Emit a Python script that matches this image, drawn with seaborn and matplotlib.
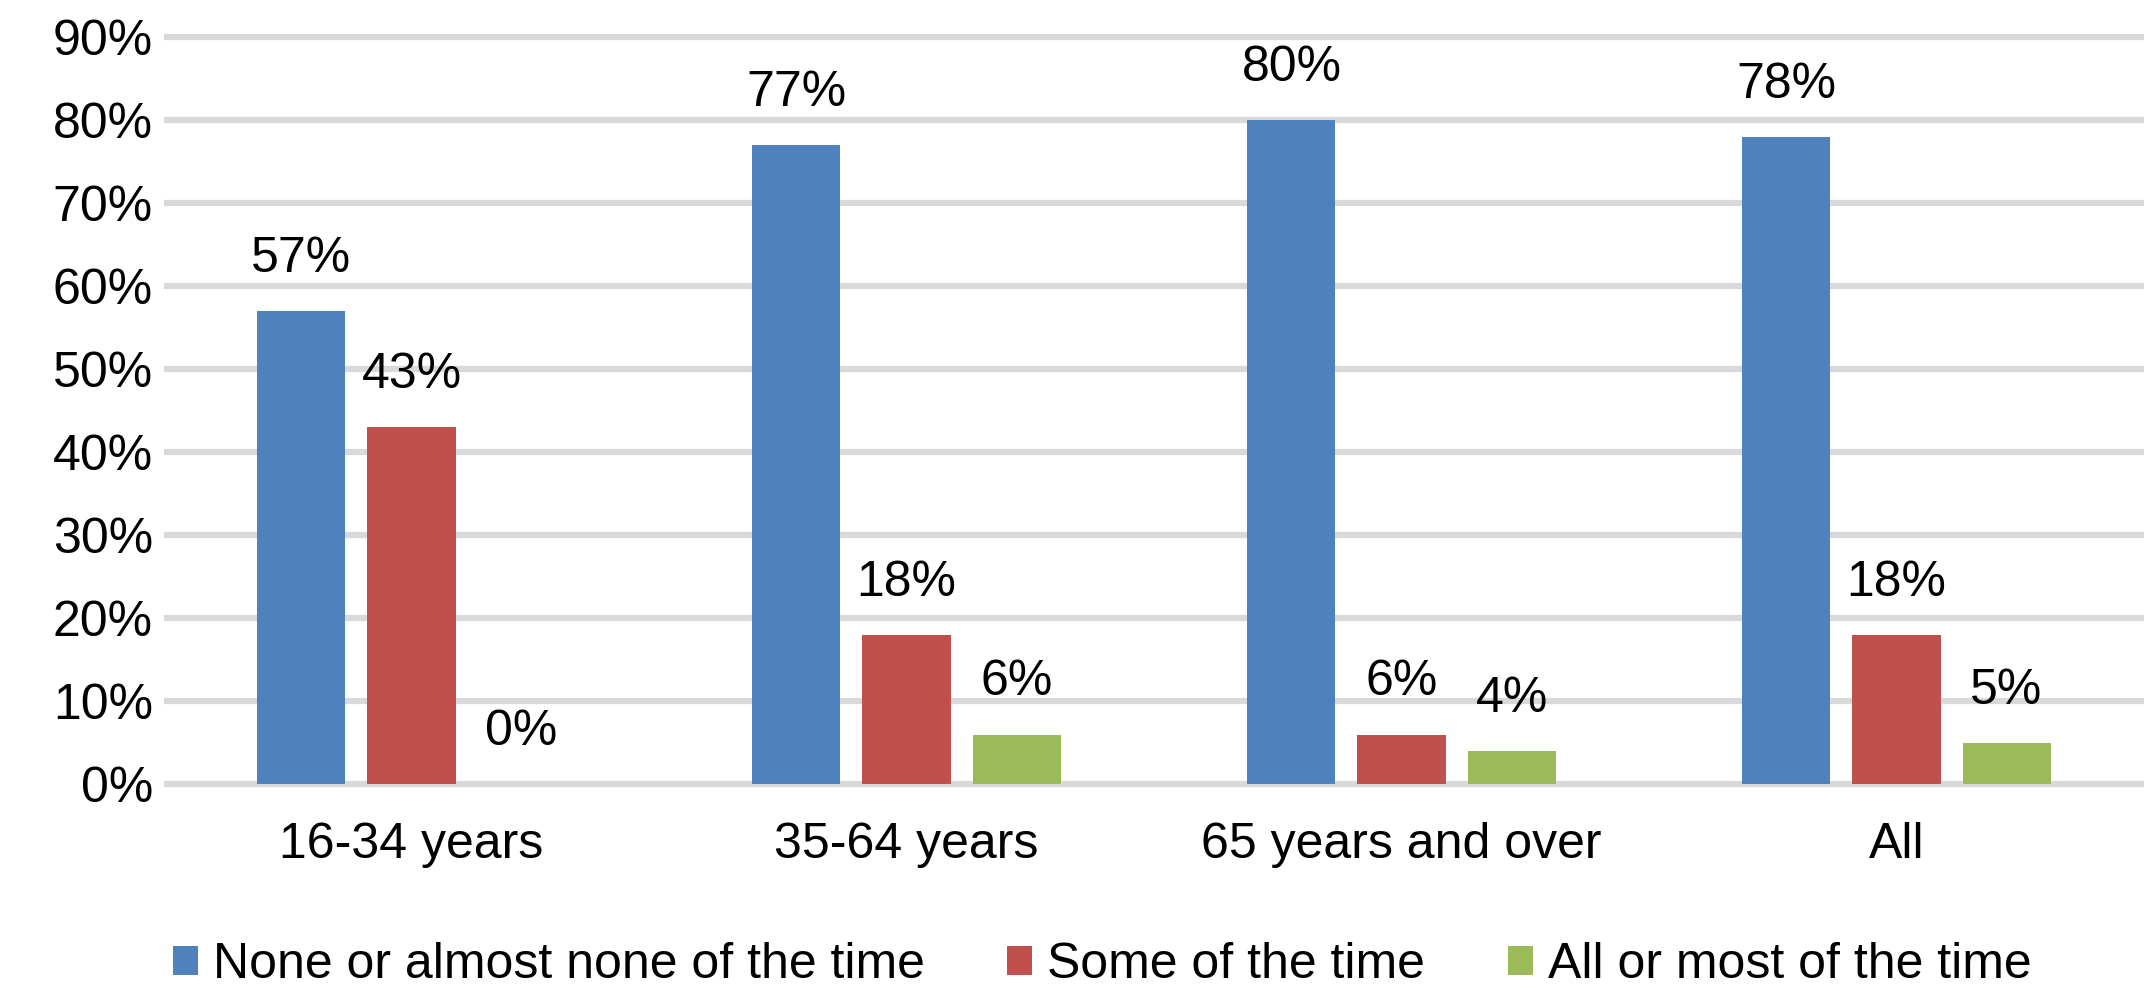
"""
Grouped bar chart: how often people felt lonely, by age group.
"""

import pandas as pd
import matplotlib.pyplot as plt
import seaborn as sns

# Data
AGE_GROUPS = ["16-34 years", "35-64 years", "65 years and over", "All"]
SERIES = ["None or almost none of the time", "Some of the time", "All or most of the time"]
NONE_VALUES = [57, 77, 80, 78]
SOME_VALUES = [43, 18, 6, 18]
MOST_VALUES = [0, 6, 4, 5]
Y_TICKS = [0, 10, 20, 30, 40, 50, 60, 70, 80, 90]

# Figure settings
FIG_DPI = 100
FONT_SIZE = 36
COLORS = ["#4F81BD", "#C0504D", "#9BBB59"]
GRID_COLOR = "#D9D9D9"


def main():
    sns.set_style("white")
    plt.rcParams["font.family"] = ["Liberation Sans", "DejaVu Sans"]
    plt.rcParams["text.color"] = "black"

    df = pd.DataFrame({
        "group": AGE_GROUPS * 3,
        "series": [s for s in SERIES for _ in AGE_GROUPS],
        "value": NONE_VALUES + SOME_VALUES + MOST_VALUES,
    })

    fig = plt.figure(figsize=(21.44, 9.9), dpi=FIG_DPI)
    ax = fig.add_axes([0.0765, 0.2034, 0.9235, 0.7634])

    sns.barplot(
        data=df, x="group", y="value", hue="series",
        order=AGE_GROUPS, hue_order=SERIES, palette=COLORS,
        width=0.667, gap=0.2, saturation=1, errorbar=None,
        linewidth=0, ax=ax,
    )

    # value labels above each bar
    for container in ax.containers:
        ax.bar_label(container, fmt="{:.0f}%", padding=21,
                     fontsize=FONT_SIZE, color="black")

    ax.set_ylim(-0.5, 90.5)
    ax.set_xlim(-0.5, len(AGE_GROUPS) - 0.5)
    ax.set_yticks(Y_TICKS)
    ax.set_yticklabels([f"{t}%" for t in Y_TICKS])
    ax.set_xlabel("")
    ax.set_ylabel("")
    ax.tick_params(axis="y", length=0, pad=8, labelsize=FONT_SIZE, labelcolor="black")
    ax.tick_params(axis="x", length=0, pad=24, labelsize=FONT_SIZE, labelcolor="black")

    ax.yaxis.grid(True, color=GRID_COLOR, linewidth=4.5)
    ax.set_axisbelow(True)
    sns.despine(ax=ax, left=True, bottom=True)

    # legend along the bottom
    handles, labels = ax.get_legend_handles_labels()
    ax.legend_.remove()
    leg = fig.legend(
        handles, labels, loc="center left",
        bbox_to_anchor=(173 / 2144, 1 - 965 / 990),
        bbox_transform=fig.transFigure, ncol=3, frameon=False,
        fontsize=FONT_SIZE, handlelength=0.5, handleheight=0.5,
        handletextpad=0.3, columnspacing=1.65, borderpad=0, borderaxespad=0,
    )
    for text in leg.get_texts():
        text.set_color("black")

    fig.savefig("out.png", dpi=FIG_DPI)
    plt.close(fig)


if __name__ == "__main__":
    main()
